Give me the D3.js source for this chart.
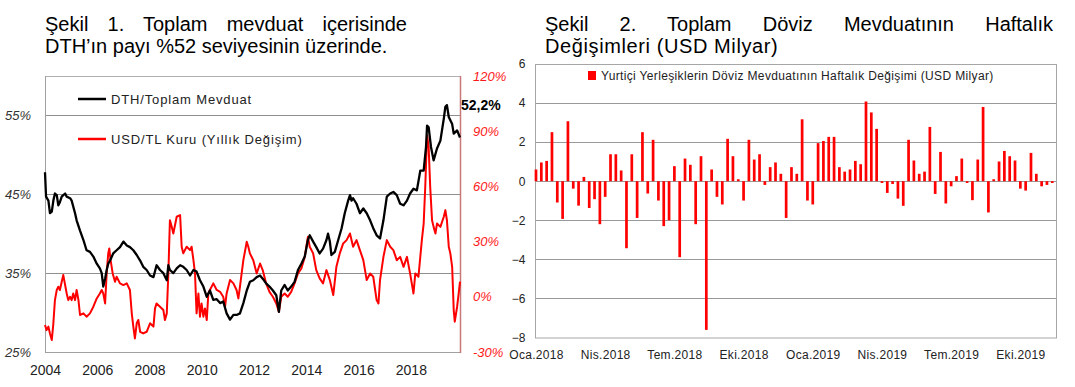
<!DOCTYPE html>
<html><head><meta charset="utf-8">
<script src="https://cdn.jsdelivr.net/npm/d3@7"></script>
<style>
body{margin:0;background:#fff}
svg text{font-family:"Liberation Sans",Arial,sans-serif}
</style>
</head><body>
<svg id="c" width="1075" height="387"></svg>
<script>
// ---------- Chart 1 data ----------
const dthYears = [
 2004.00,2004.04,2004.13,2004.19,2004.26,2004.32,2004.38,2004.45,2004.51,2004.57,2004.64,2004.70,2004.77,2004.83,2004.96,
 2005.02,2005.15,2005.21,2005.34,2005.47,2005.59,2005.72,2005.85,2005.98,
 2006.10,2006.17,2006.23,2006.30,2006.36,2006.42,2006.49,2006.61,2006.74,2006.87,
 2007.00,2007.13,2007.25,2007.38,2007.51,2007.64,2007.76,2007.89,
 2008.02,2008.15,2008.27,2008.40,2008.53,2008.66,2008.72,2008.78,2008.91,
 2009.04,2009.17,2009.29,2009.42,2009.55,2009.68,2009.80,2009.93,
 2010.06,2010.19,2010.31,2010.44,2010.57,2010.70,2010.82,2010.95,
 2011.08,2011.21,2011.33,2011.46,2011.59,2011.72,2011.84,2011.97,
 2012.10,2012.23,2012.33,2012.46,2012.59,2012.72,2012.85,2012.95,
 2013.04,2013.17,2013.29,2013.42,2013.55,2013.68,2013.81,2013.94,
 2014.06,2014.13,2014.26,2014.38,2014.51,2014.64,2014.77,2014.83,2014.90,2014.96,
 2015.09,2015.22,2015.35,2015.47,2015.60,2015.67,2015.73,2015.79,2015.92,
 2016.05,2016.18,2016.31,2016.44,2016.56,2016.69,2016.82,2016.95,
 2017.08,2017.21,2017.33,2017.46,2017.59,2017.72,2017.85,2017.97,
 2018.10,2018.23,2018.36,2018.49,2018.58,2018.62,2018.68,2018.77,2018.87,
 2019.00,2019.13,2019.26,2019.32,2019.38,2019.45,2019.58,2019.64,2019.77,2019.88];
const dthValues = [
 47.8,44.7,44.2,42.6,42.8,44.2,45.1,44.9,43.6,44.0,44.7,44.9,45.1,44.7,44.5,
 44.2,42.6,41.7,40.4,39.2,37.9,37.7,37.1,36.2,
 35.6,35.0,33.3,34.3,35.4,36.2,36.6,37.5,37.9,38.3,
 39.0,38.5,38.3,37.9,37.3,36.6,35.8,35.4,
 34.7,34.5,36.0,35.4,35.0,34.1,36.0,35.4,35.0,
 35.6,36.0,35.8,35.4,34.7,35.4,35.2,34.1,
 33.3,32.0,32.8,31.6,31.7,31.2,31.4,29.9,
 29.1,29.7,29.7,29.9,31.2,32.8,33.9,34.1,
 34.5,34.7,34.3,33.7,33.3,32.8,32.2,30.1,
 32.8,33.5,32.8,33.3,33.9,35.4,36.2,37.1,
 39.2,39.8,39.0,38.3,37.5,38.1,39.2,40.0,39.0,37.3,
 37.7,39.2,40.7,42.6,44.2,44.9,44.2,44.5,43.8,
 42.6,43.2,42.6,41.7,40.7,39.8,39.4,41.7,
 44.7,45.1,45.3,44.9,43.8,43.6,44.2,45.1,
 45.7,45.5,48.0,48.0,51.0,53.7,53.5,51.0,49.3,
 50.8,51.8,54.6,56.1,56.3,54.8,53.9,52.7,53.1,52.2];
const usdYears = [
 2004.00,2004.06,2004.13,2004.19,2004.26,2004.32,2004.38,2004.45,2004.51,2004.57,2004.64,2004.70,2004.77,2004.83,2004.89,2004.96,
 2005.02,2005.08,2005.15,2005.21,2005.28,2005.34,2005.47,2005.59,2005.72,2005.85,2005.98,
 2006.10,2006.17,2006.23,2006.30,2006.36,2006.42,2006.46,2006.51,2006.59,2006.68,2006.74,2006.87,
 2007.00,2007.13,2007.25,2007.32,2007.38,2007.44,2007.51,2007.57,2007.64,2007.76,2007.89,
 2008.02,2008.15,2008.21,2008.27,2008.40,2008.53,2008.59,2008.66,2008.72,2008.78,2008.85,2008.91,
 2009.04,2009.17,2009.23,2009.29,2009.42,2009.55,2009.61,2009.68,2009.74,2009.80,2009.87,2009.93,2009.99,
 2010.06,2010.12,2010.19,2010.25,2010.31,2010.44,2010.57,2010.70,2010.82,2010.89,2010.95,
 2011.08,2011.21,2011.33,2011.40,2011.46,2011.59,2011.72,2011.78,2011.84,2011.97,
 2012.10,2012.23,2012.33,2012.46,2012.59,2012.72,2012.85,2012.95,
 2013.04,2013.17,2013.29,2013.42,2013.55,2013.68,2013.81,2013.94,
 2014.06,2014.13,2014.26,2014.38,2014.51,2014.64,2014.77,2014.90,
 2015.03,2015.15,2015.28,2015.41,2015.54,2015.67,2015.79,2015.92,
 2016.05,2016.18,2016.31,2016.44,2016.56,2016.69,2016.76,2016.82,2016.95,
 2017.08,2017.21,2017.33,2017.46,2017.59,2017.72,2017.85,2017.97,
 2018.10,2018.17,2018.29,2018.42,2018.49,2018.55,2018.62,2018.68,2018.74,2018.81,2018.87,2018.94,
 2019.00,2019.13,2019.26,2019.32,2019.38,2019.45,2019.51,2019.58,2019.64,2019.68,2019.77,2019.83,2019.88];
const usdValues = [
 -15.3,-18.1,-16.2,-19.9,-23.5,-14.4,-1.8,3.7,5.5,3.7,8.2,11.8,6.4,1.8,-1.8,0.0,
 -1.8,1.8,-1.8,3.7,-1.8,-9.9,-9.0,-10.8,-9.0,-5.4,-0.9,
 1.8,3.7,1.8,-3.6,12.7,23.6,26.3,19.9,12.7,8.2,10.9,7.3,
 6.4,7.3,3.7,-9.0,-16.2,-22.6,-14.4,-12.6,-19.0,-19.9,-19.0,
 -14.4,-16.2,-6.3,-3.6,-5.4,-7.2,-12.6,-9.0,12.7,41.6,38.0,34.4,
 43.5,44.4,27.2,23.6,27.2,25.4,27.2,19.9,12.7,-9.0,1.8,-10.8,-3.6,
 -10.8,-6.3,-12.6,1.8,3.7,7.3,3.7,2.7,0.0,-5.4,1.8,
 9.1,7.3,3.7,-0.9,5.5,19.9,29.9,27.2,23.6,19.9,
 12.7,18.1,14.5,7.3,2.7,0.0,-3.6,-8.1,
 0.0,1.8,0.0,2.7,7.3,12.7,15.4,21.7,
 32.6,27.2,23.6,14.5,10.0,7.3,14.5,9.1,
 0.9,16.3,23.6,29.0,30.8,34.4,27.2,30.8,
 25.4,19.9,9.1,12.7,10.9,-1.8,-3.6,9.1,21.7,
 30.8,27.2,25.4,19.9,21.7,16.3,21.7,12.7,
 1.8,12.7,10.9,30.8,39.8,59.7,87.8,81.5,59.7,41.6,38.0,34.4,
 39.8,38.0,43.5,47.1,41.6,27.2,23.6,16.3,-7.2,-13.5,-5.4,1.8,8.2];
const yearTicks = [2004,2006,2008,2010,2012,2014,2016,2018];
const leftTicks = [25,35,45,55];
const rightTicks = [-30,0,30,60,90,120];
const lastLabel = "52,2%";

// ---------- Chart 2 data ----------
const weeklyChange = [
 0.6,0.96,1.04,2.51,-1.09,-1.93,3.07,-0.38,-1.25,0.22,-1.37,-0.92,-2.2,-0.8,1.38,1.38,0.55,-3.43,1.38,-1.88,2.51,-0.63,2.12,-0.99,-2.3,
 -2.0,0.77,-3.89,1.16,0.84,-2.2,1.28,-7.61,0.6,-0.8,-1.19,2.17,1.28,0.1,-0.99,2.12,1.11,1.38,-0.19,0.72,0.96,0.38,-1.88,0.72,
 0.38,3.17,-0.99,-1.19,1.95,2.06,2.27,2.27,0.72,0.49,0.6,1.04,0.87,4.08,3.52,2.68,-0.09,-0.6,-0.14,-0.89,-1.26,2.12,1.06,0.38,0.49,
 2.78,-0.65,1.5,-1.14,-0.26,0.26,1.16,-0.09,-0.97,1.11,3.8,-1.6,0.1,1.01,1.55,1.28,1.06,-0.38,-0.48,1.45,0.38,-0.26,-0.19,-0.09];
const weekTickIndex = [0,13,26,39,52,65,78,91];
const weekTickLabels = ["Oca.2018","Nis.2018","Tem.2018","Eki.2018","Oca.2019","Nis.2019","Tem.2019","Eki.2019"];
const barTicks = [-8,-6,-4,-2,0,2,4,6];

const svg = d3.select("#c");
svg.append("rect").attr("width",1075).attr("height",387).attr("fill","#fff");

function justify(str, x0, x1, y, size, ls) {
  const t = svg.append("text").attr("x", x0).attr("y", y)
    .style("font-size", size + "px").style("letter-spacing", (ls || 0) + "px").attr("fill", "#000").text(str);
  const w = t.node().getComputedTextLength();
  const gaps = str.split(" ").length - 1;
  if (x1 !== null && gaps > 0) t.style("word-spacing", ((x1 - x0 - w) / gaps) + "px");
  return t;
}
// Titles
justify("Şekil 1. Toplam mevduat içerisinde", 45, 407, 31, 20);
justify("DTH’ın payı %52 seviyesinin üzerinde.", 45, null, 53, 20);
justify("Şekil 2. Toplam Döviz Mevduatının Haftalık", 545, 1053, 31, 20);
justify("Değişimleri (USD Milyar)", 545, null, 53, 20, 0.6);

// ---------- Chart 1 ----------
const L = 45, R = 460, T = 76, B = 352;
const x1 = d3.scaleLinear().domain([2004, 2019.88]).range([L, R]);
const yL = d3.scaleLinear().domain([25, 60]).range([B, T]);
const yR = d3.scaleLinear().domain([-30, 120]).range([B, T]);

const g1 = svg.append("g");
g1.selectAll("line.grid").data([35,45,55]).join("line")
  .attr("x1", L).attr("x2", R).attr("y1", d => Math.round(yL(d)) + 0.5).attr("y2", d => Math.round(yL(d)) + 0.5)
  .attr("stroke", "#8f8f8f").attr("stroke-width", 1);
// frame
g1.append("line").attr("x1", L).attr("x2", R).attr("y1", T + 0.5).attr("y2", T + 0.5).attr("stroke", "#b0b0b0");
g1.append("line").attr("x1", L).attr("x2", R).attr("y1", B + 0.5).attr("y2", B + 0.5).attr("stroke", "#a0a0a0");
g1.append("line").attr("x1", L + 0.5).attr("x2", L + 0.5).attr("y1", T).attr("y2", B).attr("stroke", "#a0a0a0");
g1.append("line").attr("x1", R + 0.5).attr("x2", R + 0.5).attr("y1", T).attr("y2", B + 1).attr("stroke", "#c87878").attr("stroke-width", 1.5);

const axL = g1.append("g").attr("transform", `translate(${L},0)`)
  .call(d3.axisLeft(yL).tickValues(leftTicks).tickSize(0).tickPadding(14).tickFormat(d => d + "%"));
axL.select(".domain").remove();
axL.selectAll("text").style("font-size", "13px").style("font-style", "italic").attr("fill", "#333");

const axR = g1.append("g").attr("transform", `translate(${R},0)`)
  .call(d3.axisRight(yR).tickValues(rightTicks).tickSize(0).tickPadding(13).tickFormat(d => d + "%"));
axR.select(".domain").remove();
axR.selectAll("text").style("font-size", "13px").style("font-style", "italic").attr("fill", "#ff1a1a");

const axB = g1.append("g").attr("transform", `translate(0,${B})`)
  .call(d3.axisBottom(x1).tickValues(yearTicks).tickSize(0).tickPadding(13).tickFormat(d3.format("d")));
axB.select(".domain").remove();
axB.selectAll("text").style("font-size", "14px").attr("fill", "#222");

const usdLine = d3.line().x((d, i) => x1(usdYears[i])).y((d, i) => yR(usdValues[i]));
g1.append("path").datum(usdValues).attr("d", usdLine).attr("fill", "none")
  .attr("stroke", "#ff0000").attr("stroke-width", 2).attr("stroke-linejoin", "round");
const dthLine = d3.line().x((d, i) => x1(dthYears[i])).y((d, i) => yL(dthValues[i]));
g1.append("path").datum(dthValues).attr("d", dthLine).attr("fill", "none")
  .attr("stroke", "#000").attr("stroke-width", 2.3).attr("stroke-linejoin", "round");

g1.append("text").attr("x", R + 1).attr("y", 110).text(lastLabel)
  .style("font-size", "14px").style("font-weight", "bold").attr("fill", "#000");

// legend 1
const leg1 = [["DTH/Toplam Mevduat", "#000", 99], ["USD/TL Kuru (Yıllık Değişim)", "#ff0000", 139]];
leg1.forEach(([label, col, y]) => {
  g1.append("line").attr("x1", 78).attr("x2", 106).attr("y1", y).attr("y2", y).attr("stroke", col).attr("stroke-width", 2.5);
  g1.append("text").attr("x", 111).attr("y", y + 4.5).text(label)
    .style("font-size", "13px").style("letter-spacing", "0.85px").attr("fill", "#222");
});

// ---------- Chart 2 ----------
const L2 = 535.5, R2 = 1056.5, T2 = 64, B2 = 337.5;
const xb = d3.scaleLinear().domain([0, 98]).range([536, 1057.6]);
const yb = d3.scaleLinear().domain([-8, 6]).range([B2, T2]);
const g2 = svg.append("g");
g2.selectAll("line.grid").data(barTicks.filter(d => d > -8 && d < 6)).join("line")
  .attr("x1", L2).attr("x2", R2).attr("y1", d => Math.round(yb(d)) + 0.5).attr("y2", d => Math.round(yb(d)) + 0.5)
  .attr("stroke", "#999").attr("stroke-width", 1);
g2.append("rect").attr("x", L2).attr("y", T2 + 0.5).attr("width", R2 - L2).attr("height", B2 - T2)
  .attr("fill", "none").attr("stroke", "#a6a6a6").attr("stroke-width", 1);

g2.selectAll("rect.bar").data(weeklyChange).join("rect").attr("class", "bar")
  .attr("x", (d, i) => xb(i) - 1.35).attr("width", 2.7)
  .attr("y", d => yb(Math.max(0, d))).attr("height", d => Math.abs(yb(d) - yb(0)))
  .attr("fill", "#ff0000");

const axYb = g2.append("g").attr("transform", `translate(${L2},0)`)
  .call(d3.axisLeft(yb).tickValues(barTicks).tickSize(0).tickPadding(10).tickFormat(d3.format("d")));
axYb.select(".domain").remove();
axYb.selectAll("text").style("font-size", "12px").attr("fill", "#222");

const axXb = g2.append("g").attr("transform", `translate(0,${B2})`)
  .call(d3.axisBottom(xb).tickValues(weekTickIndex).tickSize(0).tickPadding(13).tickFormat((d, i) => weekTickLabels[i]));
axXb.select(".domain").remove();
axXb.selectAll("text").style("font-size", "12px").style("letter-spacing", "0.3px").attr("fill", "#222");

g2.append("rect").attr("x", 588).attr("y", 71).attr("width", 8).attr("height", 9).attr("fill", "#ff0000");
g2.append("text").attr("x", 601).attr("y", 80).text("Yurtiçi Yerleşiklerin Döviz Mevduatının Haftalık Değişimi (USD Milyar)")
  .style("font-size", "12px").style("letter-spacing", "0.35px").attr("fill", "#222");
</script>
</body></html>
